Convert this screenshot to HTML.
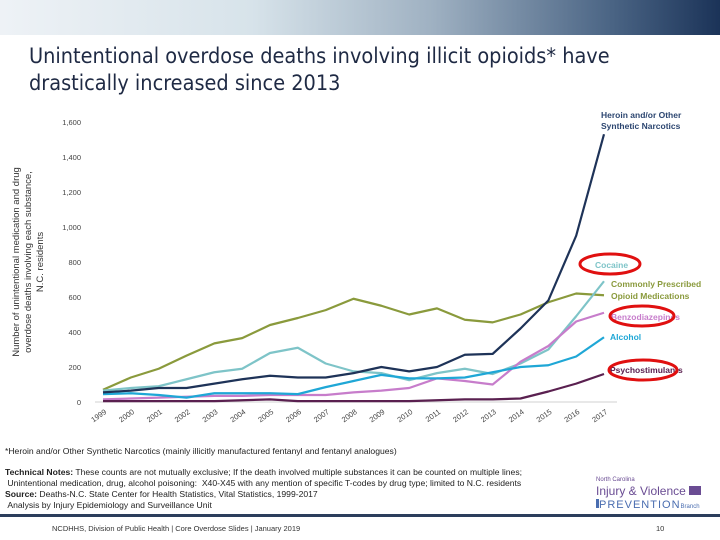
<!DOCTYPE html>
<html><head><meta charset="utf-8"><style>
body{margin:0;width:720px;height:540px;overflow:hidden;background:#fff;font-family:"Liberation Sans",sans-serif;position:relative}
.banner{position:absolute;left:0;top:0;width:720px;height:35px;background:linear-gradient(90deg,#eef2f6 0%,#d7e3ea 35%,#9fb1c2 60%,#4a6484 85%,#1b3358 100%)}
.title{position:absolute;left:29px;top:43px;font-size:21.5px;line-height:27px;color:#1f2a44;font-family:"DejaVu Sans Condensed","Liberation Sans Narrow","Liberation Sans",sans-serif}
.note{position:absolute;font-size:8.6px;color:#222;font-family:"Liberation Sans Narrow","Liberation Sans",sans-serif}
</style></head><body>
<div class="banner"></div>
<div class="title">Unintentional overdose deaths involving illicit opioids* have<br>drastically increased since 2013</div>
<svg id="chart" width="720" height="540" style="position:absolute;left:0;top:0"></svg>
<div class="note" style="left:5px;top:446px">*Heroin and/or Other Synthetic Narcotics (mainly illicitly manufactured fentanyl and fentanyl analogues)</div>
<div class="note" style="left:5px;top:467px;line-height:11px"><b>Technical Notes:</b> These counts are not mutually exclusive; If the death involved multiple substances it can be counted on multiple lines;<br>&nbsp;Unintentional medication, drug, alcohol poisoning:&nbsp; X40-X45 with any mention of specific T-codes by drug type; limited to N.C. residents<br><b>Source:</b> Deaths-N.C. State Center for Health Statistics, Vital Statistics, 1999-2017<br>&nbsp;Analysis by Injury Epidemiology and Surveillance Unit</div>
<div style="position:absolute;left:596px;top:477px;color:#6a4c93;font-size:6px">North Carolina</div>
<div style="position:absolute;left:596px;top:484px;color:#6a4c93;font-size:12px">Injury &amp; Violence <span style="display:inline-block;width:12px;height:9px;background:#6a4c93"></span></div>
<div style="position:absolute;left:596px;top:499px;color:#4a6db0;font-size:11px;letter-spacing:1px"><span style="display:inline-block;width:3px;height:9px;background:#4a6db0"></span>PREVENTION<span style="font-size:6px;letter-spacing:0">Branch</span></div>
<div style="position:absolute;left:0;top:514px;width:720px;height:3px;background:#2c3e5c"></div>
<div class="note" style="left:52px;top:524px;font-size:7.5px;color:#333">NCDHHS, Division of Public Health | Core Overdose Slides | January 2019</div>
<div class="note" style="left:656px;top:524px;font-size:7.5px;color:#333">10</div>
<script>
const years=[1999,2000,2001,2002,2003,2004,2005,2006,2007,2008,2009,2010,2011,2012,2013,2014,2015,2016,2017];
const yTicks=[0,200,400,600,800,1000,1200,1400,1600];
const heroin=[55,65,80,80,105,130,150,140,140,165,200,175,200,270,275,420,580,950,1530];
const rxOpioids=[70,140,190,265,335,365,440,480,525,590,550,500,535,470,455,500,570,620,610];
const cocaine=[65,80,90,130,170,190,280,310,220,175,165,125,165,190,160,220,300,490,690];
const benzo=[15,20,25,30,35,35,40,40,40,55,65,80,135,120,100,230,320,460,510];
const alcohol=[45,50,40,25,50,50,50,45,85,120,155,135,135,140,170,200,210,260,370];
const psycho=[5,5,5,5,5,10,15,5,5,5,5,5,10,15,15,20,60,105,160];
const NS='http://www.w3.org/2000/svg';
const svg=document.getElementById('chart');
const x=i=>103+i*(604-103)/18;
const y=v=>402-v*0.175;
function el(t,a,txt){const e=document.createElementNS(NS,t);for(const k in a)e.setAttribute(k,a[k]);if(txt!==undefined)e.textContent=txt;svg.appendChild(e);return e;}
const ax=el('line',{x1:95,x2:617,y1:402,y2:402,stroke:'#d0d0d0','stroke-width':1});


yTicks.forEach(t=>{const e=el('text',{x:81,y:y(t)+3,'text-anchor':'end','font-size':7.5,fill:'#444'},t.toLocaleString('en-US'));

});
years.forEach((yr,i)=>{const e=el('text',{x:x(i)+4,y:413,'text-anchor':'end','font-size':7.5,fill:'#444',transform:`rotate(-35 ${x(i)+4} 413)`},yr);

});
const yt=el('text',{x:0,y:0,'text-anchor':'middle','font-size':9.5,fill:'#333',transform:'translate(0 262) rotate(-90)'});


['Number of unintentional medication and drug','overdose deaths involving each substance,','N.C. residents'].forEach((s,i)=>{const t=document.createElementNS(NS,'tspan');t.setAttribute('x',0);t.setAttribute('y',19+i*12);t.textContent=s;yt.appendChild(t);});
const series=[[rxOpioids,'#8a9a3c','rx-opioids-line'],[cocaine,'#7ec4c8','cocaine-line'],[benzo,'#c77dcb','benzodiazepines-line'],[alcohol,'#1fa7d6','alcohol-line'],[psycho,'#5a2050','psychostimulants-line'],[heroin,'#1e3358','heroin-line']];
series.forEach(([d,c,n])=>{const p=el('polyline',{points:d.map((v,i)=>x(i)+','+y(v)).join(' '),fill:'none',stroke:c,'stroke-width':2.2,'stroke-linejoin':'round'});

});
function lab(tx,xx,yy,c,n,sz){const e=el('text',{x:xx,y:yy,'font-size':sz||8.5,'font-weight':'bold',fill:c},tx);}
lab('Heroin and/or Other',601,118,'#2c4670','legend-heroin');
lab('Synthetic Narcotics',601,129,'#2c4670','legend-heroin-2');
lab('Cocaine',595,268,'#7ec4c8','legend-cocaine');
lab('Commonly Prescribed',611,287,'#8a9a3c','legend-rx');
lab('Opioid Medications',611,299,'#8a9a3c','legend-rx-2');
lab('Benzodiazepines',611,320,'#c77dcb','legend-benzo');
lab('Alcohol',610,340,'#1fa7d6','legend-alcohol');
lab('Psychostimulants',610,373,'#5a2050','legend-psycho');
[[610,264,30,10],[642,316,32,10],[643,370,34,10]].forEach(([cx,cy,rx,ry])=>{const e=el('ellipse',{cx,cy,rx,ry,fill:'none',stroke:'#e01010','stroke-width':3});

});
</script>
</body></html>
